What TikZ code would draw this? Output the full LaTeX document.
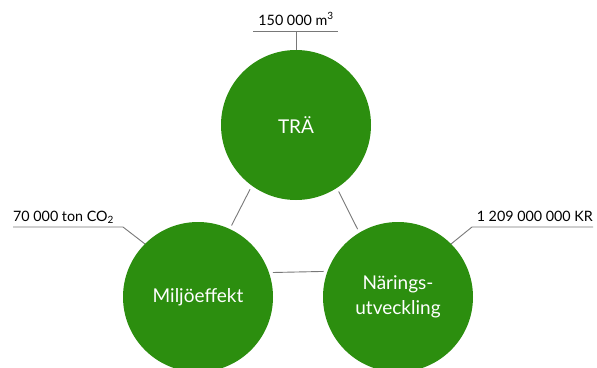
\documentclass[tikz,border=0pt]{standalone}
\usepackage{fontspec}
\setmainfont{Lato}
\definecolor{leaf}{RGB}{44,142,15}
\definecolor{wire}{RGB}{120,120,120}
\begin{document}
\begin{tikzpicture}[x=1pt,y=-1pt,
  ball/.style={circle,fill=leaf,draw=none,minimum size=150pt,inner sep=0pt,outer sep=0pt,
    text=white,font=\fontsize{19}{25}\selectfont,align=center},
  link/.style={draw=wire,line width=0.9pt,shorten <=4pt,shorten >=4pt},
  lead/.style={draw=wire,line width=0.9pt},
  tag/.style={inner sep=0pt,font=\fontsize{14.3}{16}\selectfont}]
\useasboundingbox (0,0) rectangle (597,367);
\node[ball] (T) at (296,125) {TRÄ};
\node[ball] (L) at (198,297) {Miljöeffekt};
\node[ball] (R) at (398,297) {Närings-\\utveckling};
\draw[link] (T.-126) -- (L.65);
\draw[link] (T.-57) -- (R.121);
\draw[link] (L.19.47) -- (R.160.53);
% top label
\coordinate (tj) at (296,31);
\coordinate (ta) at (253,31);
\coordinate (tb) at (338,31);
\draw[lead] (T.90) -- (tj);
\draw[lead] (ta) -- (tb);
\node[tag,anchor=base] (tt) at (296,25) {150 000 m\textsuperscript{3}};
% left label
\coordinate (lk) at (123,227);
\coordinate (le) at (13,227);
\draw[lead] (L.135) -- (lk) -- (le);
\node[tag,anchor=base west] (lt) at (13,221) {70 000 ton CO\raisebox{-0.35ex}{\fontsize{10}{10}\selectfont 2}};
% right label
\coordinate (rk) at (472,227);
\coordinate (re) at (593,227);
\draw[lead] (R.45) -- (rk) -- (re);
\node[tag,anchor=base east] (rt) at (593,221) {1 209 000 000 KR};
\end{tikzpicture}
\end{document}
